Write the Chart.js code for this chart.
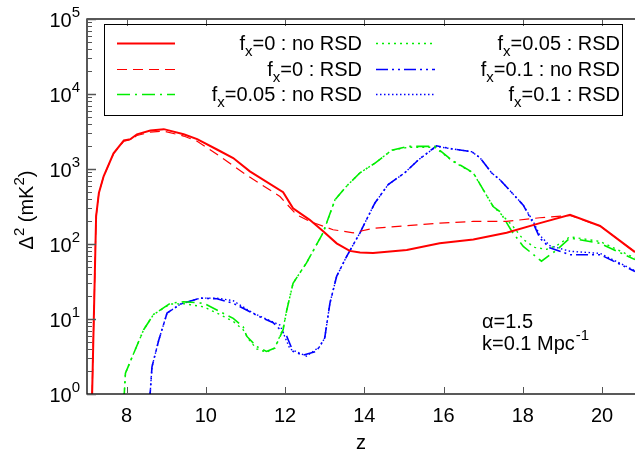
<!DOCTYPE html>
<html>
<head>
<meta charset="utf-8">
<script src="https://cdn.jsdelivr.net/npm/chart.js@4.4.0/dist/chart.umd.min.js"></script>
<style>
  html, body { margin: 0; padding: 0; background: #fff; overflow: hidden; }
</style>
</head>
<body>
<canvas id="chart" width="635" height="456"></canvas>
<script>
// x ticks (redshift) and y decades
const xTicks = [8, 10, 12, 14, 16, 18, 20];
const yDecades = [0, 1, 2, 3, 4, 5];

// f_x = 0, no RSD
const redSolidZ = [7.12, 7.23, 7.30, 7.42, 7.67, 7.93, 8.10, 8.26, 8.60, 8.94, 9.44, 9.78, 10.28, 10.69, 11.11, 11.95, 12.20, 12.62, 12.96, 13.30, 13.63, 13.89, 14.22, 15.07, 15.90, 16.75, 17.59, 18.43, 19.19, 19.95, 20.83];
const redSolidVal = [0.6, 234, 480, 800, 1620, 2400, 2500, 2900, 3250, 3400, 2900, 2500, 1820, 1400, 930, 490, 300, 210, 148, 102, 81, 77, 76, 83, 102, 115, 141, 190, 245, 174, 78];

// f_x = 0, RSD
const redDashZ = [7.12, 7.23, 7.30, 7.42, 7.67, 7.93, 8.10, 8.26, 8.60, 8.94, 9.44, 9.78, 10.35, 11.03, 11.87, 12.29, 12.62, 13.21, 13.72, 14.22, 15.90, 16.75, 17.59, 18.43, 19.19, 19.95, 20.83];
const redDashVal = [0.6, 234, 480, 800, 1600, 2350, 2450, 2800, 3100, 3200, 2750, 2350, 1480, 830, 430, 245, 200, 155, 141, 162, 190, 200, 200, 224, 240, 174, 78];

// f_x = 0.05, no RSD
const greenDashDotZ = [7.93, 7.97, 8.18, 8.43, 8.68, 9.10, 9.44, 9.95, 10.35, 10.69, 10.94, 11.03, 11.28, 11.53, 11.74, 11.95, 12.04, 12.20, 12.54, 12.96, 13.26, 13.55, 13.89, 14.27, 14.69, 15.11, 15.78, 16.20, 16.75, 17.25, 17.42, 17.72, 18.01, 18.47, 18.85, 19.19, 19.95, 20.83];
const greenDashDotVal = [0.8, 1.9, 3.5, 7.2, 11.5, 16.2, 17, 16.2, 12.6, 10.2, 7.9, 5.9, 4.3, 3.7, 4.1, 7.2, 13, 30, 56, 142, 390, 590, 890, 1200, 1780, 2000, 2000, 1320, 890, 316, 270, 148, 93, 59, 83, 120, 102, 62];

// f_x = 0.05, RSD
const greenDotZ = [7.93, 7.97, 8.18, 8.43, 8.68, 9.10, 9.44, 9.95, 10.35, 10.69, 10.94, 11.10, 11.28, 11.53, 11.74, 11.95, 12.04, 12.20, 12.54, 12.96, 13.26, 13.55, 13.89, 14.27, 14.69, 15.11, 15.78, 16.20, 16.75, 17.25, 17.42, 17.72, 18.01, 18.30, 18.60, 18.85, 19.19, 19.95, 20.83];
const greenDotVal = [0.8, 1.9, 3.5, 7.2, 11.5, 15.8, 16, 14.5, 11.5, 9.3, 7.2, 5.2, 4.0, 3.6, 4.1, 7.5, 13, 30, 56, 142, 390, 590, 890, 1200, 1780, 1950, 1950, 1300, 880, 316, 260, 180, 115, 90, 85, 95, 125, 108, 65];

// f_x = 0.1, no RSD
const blueDashDotZ = [8.58, 8.64, 8.81, 9.02, 9.36, 9.86, 10.28, 10.69, 11.36, 11.70, 12.04, 12.20, 12.45, 12.79, 13.00, 13.13, 13.30, 13.55, 13.89, 14.01, 14.27, 14.60, 15.02, 15.36, 15.82, 16.20, 16.71, 16.92, 17.21, 17.42, 18.01, 18.26, 18.43, 18.68, 19.19, 19.95, 20.83];
const blueDashDotVal = [0.8, 2.3, 5.2, 12, 15.8, 19, 18.6, 16.2, 10.7, 8.9, 5.9, 3.7, 3.3, 3.7, 5.6, 16.2, 37, 68, 141, 190, 355, 620, 890, 1320, 2040, 1860, 1700, 1410, 890, 720, 330, 190, 120, 89, 72, 72, 43];

// f_x = 0.1, RSD
const blueDotZ = [8.58, 8.64, 8.81, 9.02, 9.36, 9.86, 10.28, 10.69, 11.19, 11.87, 12.12, 12.54, 12.88, 13.00, 13.13, 13.30, 13.55, 13.89, 14.01, 14.27, 14.60, 15.02, 15.36, 15.82, 16.20, 16.71, 16.92, 17.21, 17.42, 18.01, 18.26, 18.43, 18.68, 19.19, 19.95, 20.83];
const blueDotVal = [0.8, 2.3, 5.2, 12, 15.8, 19, 19, 17.5, 12, 8.3, 4.0, 3.2, 4.3, 5.6, 16.2, 37, 68, 141, 190, 355, 620, 890, 1320, 2000, 1860, 1700, 1410, 890, 720, 330, 200, 130, 95, 80, 75, 44];

const FONT = '"Liberation Sans", Arial, Helvetica, sans-serif';

function pairs(zs, vals) {
  return zs.map((z, i) => ({ x: z, y: vals[i] }));
}

const series = [
  { label: "=0 : no RSD", data: pairs(redSolidZ, redSolidVal), color: "#ff0000", dash: [], width: 2 },
  { label: "=0 : RSD", data: pairs(redDashZ, redDashVal), color: "#ff0000", dash: [10, 6], width: 1.2 },
  { label: "=0.05 : no RSD", data: pairs(greenDashDotZ, greenDashDotVal), color: "#00ee00", dash: [13, 5, 2, 5], width: 1.6 },
  { label: "=0.05 : RSD", data: pairs(greenDotZ, greenDotVal), color: "#00ee00", dash: [2, 4], width: 1.4 },
  { label: "=0.1 : no RSD", data: pairs(blueDashDotZ, blueDashDotVal), color: "#0000ff", dash: [12, 4, 2, 4, 2, 4], width: 1.6 },
  { label: "=0.1 : RSD", data: pairs(blueDotZ, blueDotVal), color: "#0000ff", dash: [1.5, 2.5], width: 1.4 },
];

// text with f_x prefix, right aligned at xr
function drawFxLabel(ctx, xr, base, rest) {
  ctx.font = `20px ${FONT}`;
  const wf = ctx.measureText("f").width;
  const wr = ctx.measureText(rest).width;
  ctx.font = `15px ${FONT}`;
  const wx = ctx.measureText("x").width;
  let x = xr - wr - wx - wf;
  ctx.textAlign = "left";
  ctx.textBaseline = "alphabetic";
  ctx.font = `20px ${FONT}`;
  ctx.fillText("f", x, base);
  ctx.font = `15px ${FONT}`;
  ctx.fillText("x", x + wf, base + 6);
  ctx.font = `20px ${FONT}`;
  ctx.fillText(rest, x + wf + wx, base);
}

const decorPlugin = {
  id: "decor",
  afterDraw(chart) {
    const { ctx, chartArea: a, scales } = chart;
    const xs = scales.x;
    const ys = scales.y;
    ctx.save();
    ctx.fillStyle = "#000";
    ctx.strokeStyle = "#000";
    ctx.setLineDash([]);

    // border
    ctx.lineWidth = 1.3;
    ctx.strokeRect(a.left, a.top, a.right - a.left + 2, a.bottom - a.top);

    // x ticks, bottom and top, inward
    ctx.lineWidth = 1;
    ctx.strokeStyle = "#555";
    xTicks.forEach((t) => {
      const px = Math.round(xs.getPixelForValue(t)) + 0.5;
      ctx.beginPath();
      ctx.moveTo(px, a.bottom);
      ctx.lineTo(px, a.bottom - 7);
      ctx.moveTo(px, a.top);
      ctx.lineTo(px, a.top + 7);
      ctx.stroke();
    });

    // y ticks, majors and minors, inward
    yDecades.forEach((k) => {
      for (let d = 1; d <= 9; d++) {
        if (k === 5 && d > 1) break;
        const py = Math.round(ys.getPixelForValue(d * Math.pow(10, k))) + 0.5;
        const len = d === 1 ? 9 : 5;
        ctx.lineWidth = d === 1 ? 1.5 : 1;
        ctx.beginPath();
        ctx.moveTo(a.left, py);
        ctx.lineTo(a.left + len, py);
        ctx.stroke();
      }
    });

    // x tick labels
    ctx.fillStyle = "#000";
    ctx.font = `20px ${FONT}`;
    ctx.textAlign = "center";
    ctx.textBaseline = "alphabetic";
    xTicks.forEach((t) => {
      ctx.fillText(String(t), xs.getPixelForValue(t), 422);
    });
    ctx.fillText("z", (a.left + a.right) / 2, 449);

    // y tick labels 10^k
    yDecades.forEach((k) => {
      const py = ys.getPixelForValue(Math.pow(10, k));
      ctx.font = `15px ${FONT}`;
      ctx.textAlign = "right";
      const we = ctx.measureText(String(k)).width;
      ctx.fillText(String(k), 80, py - 2);
      ctx.font = `20px ${FONT}`;
      ctx.fillText("10", 80 - we, py + 8);
    });

    // y axis title
    ctx.save();
    ctx.translate(33, 210);
    ctx.rotate(-Math.PI / 2);
    ctx.textAlign = "left";
    const parts = [["\u0394", 20, 0], ["2", 15, -9], [" (mK", 20, 0], ["2", 15, -9], [")", 20, 0]];
    let total = 0;
    parts.forEach(([s, sz]) => { ctx.font = `${sz}px ${FONT}`; total += ctx.measureText(s).width; });
    let cx = -total / 2;
    parts.forEach(([s, sz, dy]) => {
      ctx.font = `${sz}px ${FONT}`;
      ctx.fillText(s, cx, dy);
      cx += ctx.measureText(s).width;
    });
    ctx.restore();

    // legend box
    ctx.lineWidth = 1;
    ctx.strokeStyle = "#000";
    ctx.strokeRect(104.5, 24.5, 518, 91);
    const rows = [43.5, 69.5, 94.5];
    const cols = [{ x0: 117, x1: 175, xr: 362 }, { x0: 376, x1: 435, xr: 620 }];
    series.forEach((s, i) => {
      const col = cols[Math.floor(i / 3)];
      const y = rows[i % 3];
      ctx.strokeStyle = s.color;
      ctx.lineWidth = s.width;
      ctx.setLineDash(s.dash);
      ctx.beginPath();
      ctx.moveTo(col.x0, y);
      ctx.lineTo(col.x1, y);
      ctx.stroke();
      ctx.setLineDash([]);
      ctx.fillStyle = "#000";
      drawFxLabel(ctx, col.xr, y + 6, s.label);
    });

    // annotation
    ctx.fillStyle = "#000";
    ctx.textAlign = "left";
    ctx.font = `20px ${FONT}`;
    ctx.fillText("\u03b1=1.5", 482, 328);
    const kTxt = "k=0.1 Mpc";
    ctx.fillText(kTxt, 482, 350);
    const wk = ctx.measureText(kTxt).width;
    ctx.font = `15px ${FONT}`;
    ctx.fillText("-1", 482 + wk + 1, 340);

    ctx.restore();
  },
};

new Chart(document.getElementById("chart"), {
  type: "line",
  data: {
    datasets: series.map((s) => ({
      label: s.label,
      data: s.data,
      borderColor: s.color,
      borderWidth: s.width,
      borderDash: s.dash,
      pointRadius: 0,
      tension: 0,
      fill: false,
      clip: 0,
    })),
  },
  options: {
    responsive: false,
    animation: false,
    devicePixelRatio: 1,
    layout: { padding: { left: 87, top: 19, right: 0, bottom: 62 } },
    plugins: { legend: { display: false }, tooltip: { enabled: false } },
    scales: {
      x: { type: "linear", min: 7, max: 20.83, display: false },
      y: { type: "logarithmic", min: 1, max: 100000, display: false },
    },
  },
  plugins: [decorPlugin],
});
</script>
</body>
</html>
